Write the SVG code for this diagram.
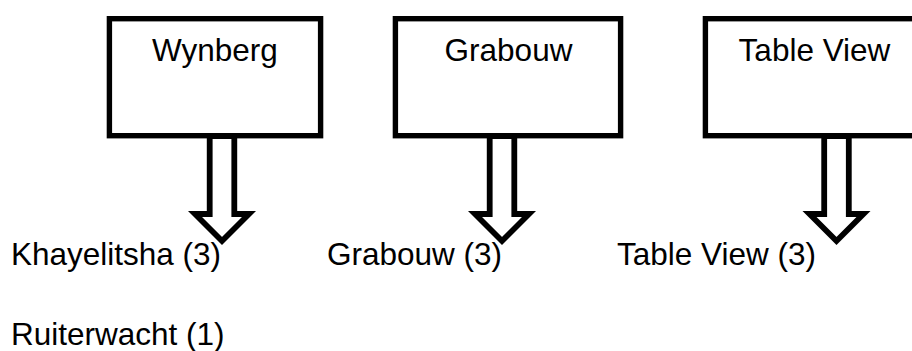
<svg xmlns="http://www.w3.org/2000/svg" width="912" height="351" viewBox="0 0 912 351">
<defs>
<style>
.box{fill:#fff;stroke:#000;stroke-width:5.4}
.arr{fill:#fff;stroke:#000;stroke-width:5.8;stroke-linejoin:miter;stroke-miterlimit:10}
.t{font-family:"Liberation Sans",Arial,sans-serif;font-size:31.5px;fill:#000}
.c{text-anchor:middle}
</style>
<polygon id="blockArrow" class="arr" points="-12.3,136 12.3,136 12.3,214 27,214 0,241 -27,214 -12.3,214"/>
</defs>
<g id="connectors">
<use href="#blockArrow" transform="translate(222,0)"/>
<use href="#blockArrow" transform="translate(502,0)"/>
<use href="#blockArrow" transform="translate(836.5,0)"/>
</g>
<g id="node-wynberg">
<rect class="box" x="109.4" y="18.7" width="211.2" height="117"/>
<text class="t c" x="215" y="61">Wynberg</text>
</g>
<g id="node-grabouw">
<rect class="box" x="395.4" y="18.7" width="225.2" height="117"/>
<text class="t c" x="508.5" y="61">Grabouw</text>
</g>
<g id="node-tableview">
<rect class="box" x="705.4" y="18.7" width="219" height="117"/>
<text class="t c" x="814.5" y="61">Table View</text>
</g>
<g id="labels">
<text class="t" x="11" y="265">Khayelitsha (3)</text>
<text class="t" x="327" y="265">Grabouw (3)</text>
<text class="t" x="617" y="265">Table View (3)</text>
<text class="t" x="11" y="345">Ruiterwacht (1)</text>
</g>
</svg>
